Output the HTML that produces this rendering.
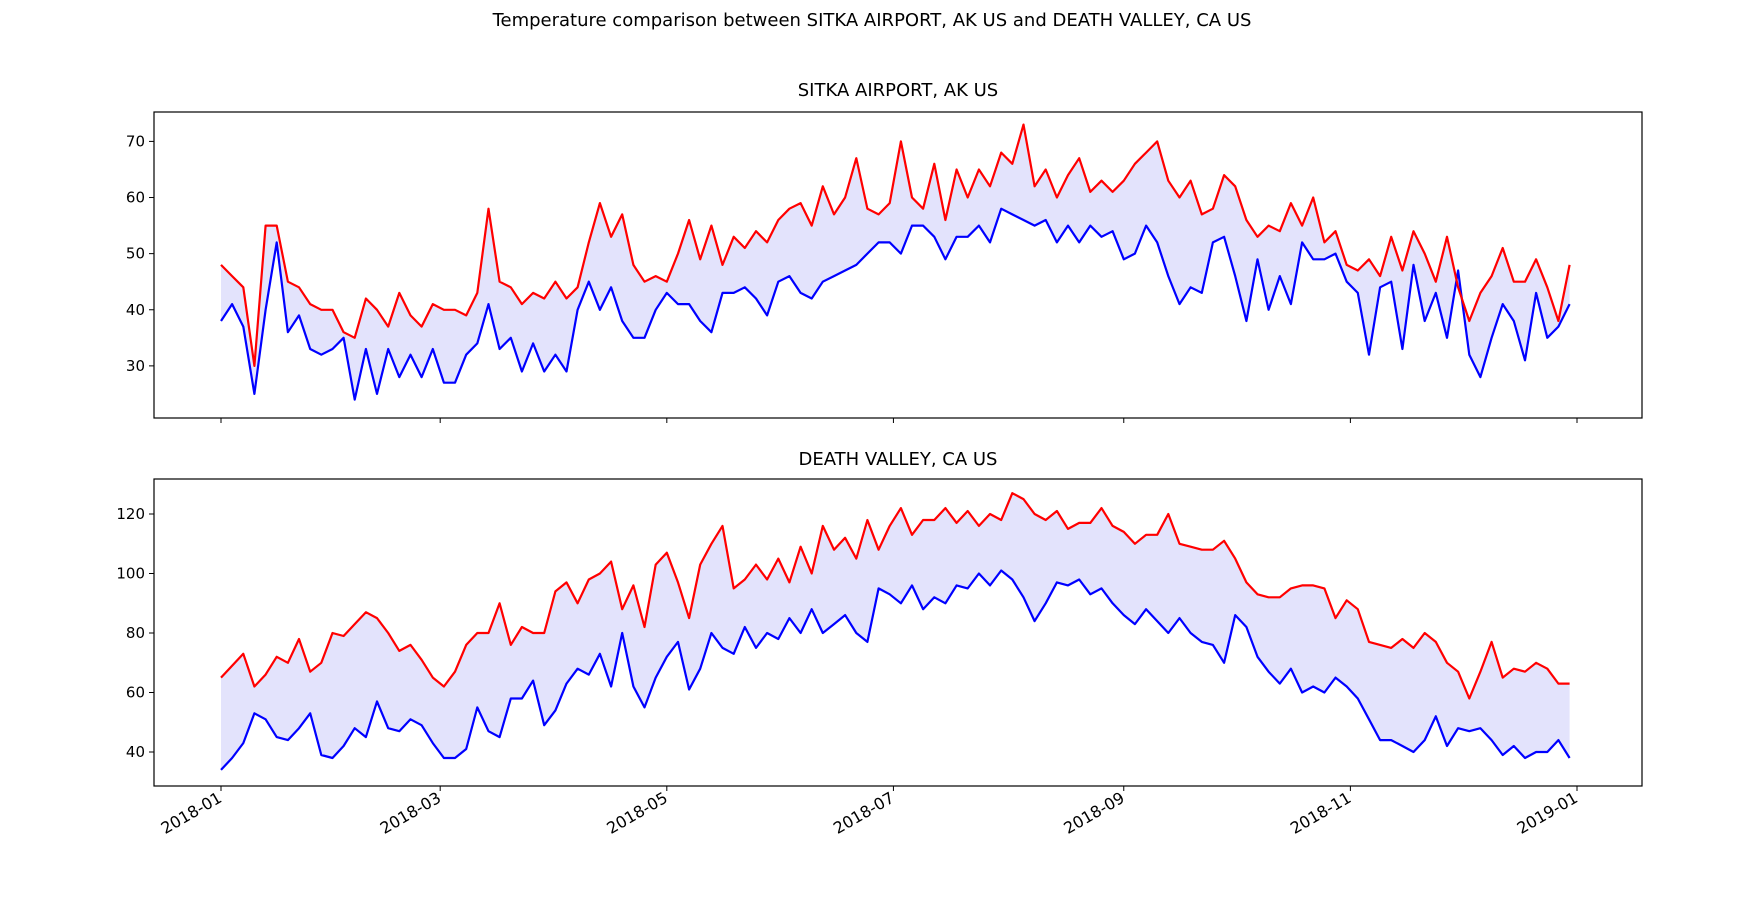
<!DOCTYPE html>
<html><head><meta charset="utf-8"><style>
html,body{margin:0;padding:0;background:#fff;}
svg{display:block;font-family:"DejaVu Sans","Liberation Sans",sans-serif;}
</style></head><body>
<svg id="chart" width="1760" height="906" viewBox="0 0 1760 906">
<text x="872" y="26" text-anchor="middle" font-size="18" fill="#000">Temperature comparison between SITKA AIRPORT, AK US and DEATH VALLEY, CA US</text>
<text x="898" y="96" text-anchor="middle" font-size="18" fill="#000">SITKA AIRPORT, AK US</text>
<text x="898" y="465" text-anchor="middle" font-size="18" fill="#000">DEATH VALLEY, CA US</text>
<g id="p1"></g>
<g id="p2"></g>
</svg>
<script>
const days = [];
for (let d = 0; d <= 363; d += 3) days.push(d);
const sitkaHigh = [48,46,44,30,55,55,45,44,41,40,40, 36,35,42,40,37,43,39,37,41, 40,40,39,43,58,45,44,41,43,42, 45,42,44,52,59,53,57,48,45,46, 45,50,56,49,55,48,53,51,54,52,56, 58,59,55,62,57,60,67,58,57,59, 70,60,58,66,56,65,60,65,62,68, 66,73,62,65,60,64,67,61,63,61, 63,66,68,70,63,60,63,57,58,64, 62,56,53,55,54,59,55,60,52,54,48, 47,49,46,53,47,54,50,45,53,44, 38,43,46,51,45,45,49,44,38,48];
const sitkaLow = [38,41,37,25,40,52,36,39,33,32,33, 35,24,33,25,33,28,32,28,33, 27,27,32,34,41,33,35,29,34,29, 32,29,40,45,40,44,38,35,35,40, 43,41,41,38,36,43,43,44,42,39,45, 46,43,42,45,46,47,48,50,52,52, 50,55,55,53,49,53,53,55,52,58, 57,56,55,56,52,55,52,55,53,54, 49,50,55,52,46,41,44,43,52,53, 46,38,49,40,46,41,52,49,49,50,45, 43,32,44,45,33,48,38,43,35,47, 32,28,35,41,38,31,43,35,37,41];
const dvHigh = [65,69,73,62,66,72,70,78,67,70,80, 79,83,87,85,80,74,76,71,65, 62,67,76,80,80,90,76,82,80,80, 94,97,90,98,100,104,88,96,82,103, 107,97,85,103,110,116,95,98,103,98,105, 97,109,100,116,108,112,105,118,108,116, 122,113,118,118,122,117,121,116,120,118, 127,125,120,118,121,115,117,117,122,116, 114,110,113,113,120,110,109,108,108,111, 105,97,93,92,92,95,96,96,95,85,91, 88,77,76,75,78,75,80,77,70,67, 58,67,77,65,68,67,70,68,63,63];
const dvLow = [34,38,43,53,51,45,44,48,53,39,38, 42,48,45,57,48,47,51,49,43, 38,38,41,55,47,45,58,58,64,49, 54,63,68,66,73,62,80,62,55,65, 72,77,61,68,80,75,73,82,75,80,78, 85,80,88,80,83,86,80,77,95,93, 90,96,88,92,90,96,95,100,96,101, 98,92,84,90,97,96,98,93,95,90, 86,83,88,84,80,85,80,77,76,70, 86,82,72,67,63,68,60,62,60,65,62, 58,51,44,44,42,40,44,52,42,48, 47,48,44,39,42,38,40,40,44,38];
const xTickDays = [0,59,120,181,243,304,365];
const xTickLabels = ["2018-01","2018-03","2018-05","2018-07","2018-09","2018-11","2019-01"];
const sitkaTicks = [30,40,50,60,70];
const dvTicks = [40,60,80,100,120];

const NS = "http://www.w3.org/2000/svg";
const X0 = 154, X1 = 1642;
function xScale(d){ return 221 + d * (1577 - 221) / 365; }
function mk(tag, attrs, parent){ const e = document.createElementNS(NS, tag); for (const k in attrs) e.setAttribute(k, attrs[k]); parent.appendChild(e); return e; }

function panel(g, top, bottom, yScale, hi, lo, ticks, showLabels, prefix){
  let fill = "M" + days.map((d,i)=>xScale(d).toFixed(1)+","+yScale(hi[i]).toFixed(1)).join("L");
  for (let i = days.length-1; i >= 0; i--) fill += "L" + xScale(days[i]).toFixed(1) + "," + yScale(lo[i]).toFixed(1);
  const f = mk("path", {d: fill + "Z", fill: "#e3e3fc", stroke: "none"}, g);
  
  
  const lp = mk("path", {d: "M" + days.map((d,i)=>xScale(d).toFixed(1)+","+yScale(lo[i]).toFixed(1)).join("L"), fill: "none", stroke: "#0000ff", "stroke-width": 2.2, "stroke-linejoin": "round"}, g);
  
  
  const hp = mk("path", {d: "M" + days.map((d,i)=>xScale(d).toFixed(1)+","+yScale(hi[i]).toFixed(1)).join("L"), fill: "none", stroke: "#ff0000", "stroke-width": 2.2, "stroke-linejoin": "round"}, g);
  
  
  const box = mk("rect", {x: X0, y: top, width: X1 - X0, height: bottom - top, fill: "none", stroke: "#000", "stroke-width": 1.2}, g);
  
  
  ticks.forEach(t => {
    const y = yScale(t);
    mk("line", {x1: X0 - 5, x2: X0, y1: y, y2: y, stroke: "#000", "stroke-width": 1}, g);
    const tx = mk("text", {x: X0 - 9, y: y + 5, "text-anchor": "end", "font-size": 15, fill: "#000"}, g);
    tx.textContent = t;
    
    
  });
  xTickDays.forEach((d, i) => {
    const x = xScale(d);
    mk("line", {x1: x, x2: x, y1: bottom, y2: bottom + 5, stroke: "#000", "stroke-width": 1}, g);
    if (showLabels) {
      const tx = mk("text", {x: x + 2, y: bottom + 15, "text-anchor": "end", "font-size": 16, fill: "#000", transform: "rotate(-30 " + (x + 2) + " " + (bottom + 15) + ")"}, g);
      tx.textContent = xTickLabels[i];
      
      
    }
  });
}
panel(document.getElementById("p1"), 112, 418, v => 141.4 + (70 - v) * 5.612, sitkaHigh, sitkaLow, sitkaTicks, false, "sitka");
panel(document.getElementById("p2"), 479, 786, v => 514 + (120 - v) * 2.975, dvHigh, dvLow, dvTicks, true, "death-valley");
</script>
</body></html>
